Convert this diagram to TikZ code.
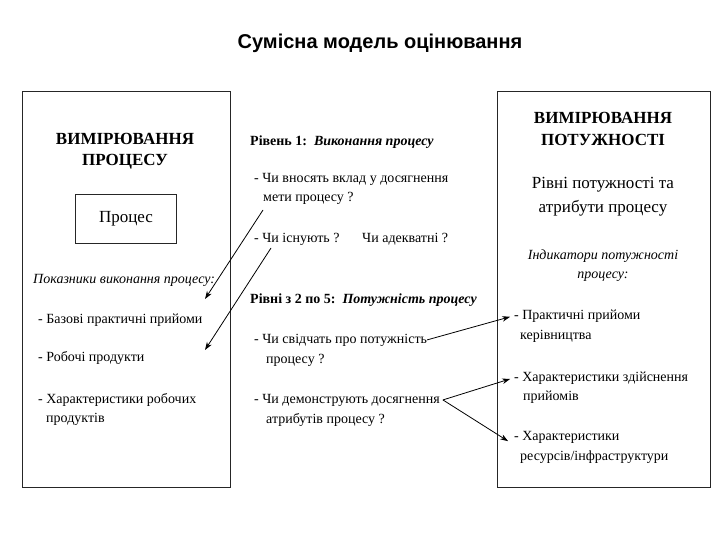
\documentclass[tikz,border=0pt]{standalone}
\usepackage{fontspec}
\setmainfont{Liberation Serif}
\newfontfamily\titlefont{Liberation Sans}
\usetikzlibrary{arrows.meta}
\tikzset{
  panel/.style={draw=black!85, line width=1pt},
  txt/.style={anchor=base west, inner sep=0pt, font=\fontsize{14}{16}\selectfont},
  ctxt/.style={anchor=base, inner sep=0pt, font=\fontsize{14}{16}\selectfont},
  head/.style={anchor=base, inner sep=0pt, font=\fontsize{17}{20}\selectfont\bfseries},
  big/.style={anchor=base, inner sep=0pt, font=\fontsize{17}{20}\selectfont},
  link/.style={line width=0.8pt, -{Stealth[length=8pt,width=5.5pt]}}
}

\begin{document}
\begin{tikzpicture}[x=1pt, y=-1pt]
  \useasboundingbox (0,0) rectangle (720,540);

  \node[anchor=base, inner sep=0pt] (title) at (380,49)
    {\titlefont\fontsize{20}{24}\selectfont\bfseries Сумісна модель оцінювання};

  % left panel
  \draw[panel] (22,92) rectangle (230,487);
  \node[head] (lhead1) at (125,145) {ВИМІРЮВАННЯ};
  \node[head] (lhead2) at (125,166) {ПРОЦЕСУ};
  \node[draw=black!85, line width=1pt, minimum width=101pt, minimum height=48pt,
        font=\fontsize{17}{20}\selectfont] (proc) at (126,219) {Процес};
  \node[txt, font=\fontsize{14}{16}\selectfont\itshape] (pind) at (33,283) {Показники виконання процесу:};
  \node[txt] (pi1) at (38,323) {- Базові практичні прийоми};
  \node[txt] (pi2) at (38,361) {- Робочі продукти};
  \node[txt] (pi3) at (38,403) {- Характеристики робочих};
  \node[txt] (pi3b) at (46,422) {продуктів};

  % middle column
  \node[txt] (lev1) at (250,146) {\textbf{Рівень 1:}\ \ \textbf{\textit{Виконання процесу}}};
  \node[txt] (q1) at (254,183) {- Чи вносять вклад у досягнення};
  \node[txt] (q1b) at (263,202) {мети процесу ?};
  \node[txt] (q2) at (254,243) {- Чи існують ?};
  \node[txt] (q2b) at (362,243) {Чи адекватні ?};
  \node[txt] (lev2) at (250,303) {\textbf{Рівні з 2 по 5:}\ \ \textbf{\textit{Потужність процесу}}};
  \node[txt] (q3) at (254,343) {- Чи свідчать про потужність};
  \node[txt] (q3b) at (266,363) {процесу ?};
  \node[txt] (q4) at (254,403) {- Чи демонструють досягнення};
  \node[txt] (q4b) at (266,423) {атрибутів процесу ?};

  % right panel
  \draw[panel] (497,92) rectangle (710,487);
  \node[head] (rhead1) at (603,124) {ВИМІРЮВАННЯ};
  \node[head] (rhead2) at (603,146) {ПОТУЖНОСТІ};
  \node[big] (rsub1) at (603,189) {Рівні потужності та};
  \node[big] (rsub2) at (603,213) {атрибути процесу};
  \node[ctxt, font=\fontsize{14}{16}\selectfont\itshape] (rind1) at (603,259) {Індикатори потужності};
  \node[ctxt, font=\fontsize{14}{16}\selectfont\itshape] (rind2) at (603,278) {процесу:};
  \node[txt] (ci1) at (514,319) {- Практичні прийоми};
  \node[txt] (ci1b) at (520,339) {керівництва};
  \node[txt] (ci2) at (514,381) {- Характеристики здійснення};
  \node[txt] (ci2b) at (523,400) {прийомів};
  \node[txt] (ci3) at (514,440) {- Характеристики};
  \node[txt] (ci3b) at (520,460) {ресурсів/інфраструктури};

  % connectors
  \coordinate (s1) at (263,210);
  \coordinate (e1) at (205,299);
  \coordinate (s2) at (271,248);
  \coordinate (e2) at (205,350);
  \draw[link] (s1) -- (e1);
  \draw[link] (s2) -- (e2);
  \draw[link, shorten >=4pt] (q3.east) -- (ci1.west);
  \draw[link, shorten >=4pt] ([xshift=3pt]q4.east) -- (ci2.west);
  \draw[link, shorten >=7pt] ([xshift=3pt]q4.east) -- ([yshift=-8pt]ci3.west);
\end{tikzpicture}
\end{document}
